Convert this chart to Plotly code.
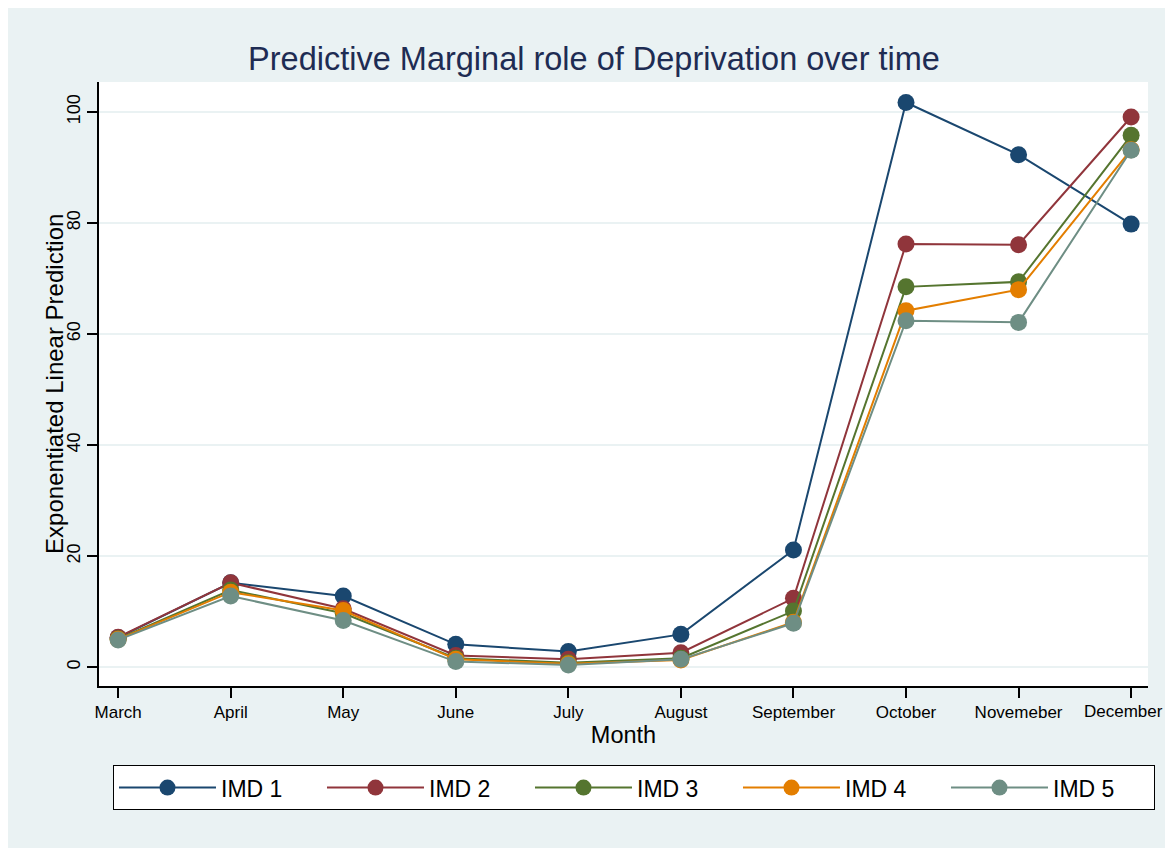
import plotly.graph_objects as go

months = ["March", "April", "May", "June", "July", "August",
          "September", "October", "Novemeber", "December"]

imd1 = [5.3, 15.2, 12.8, 4.1, 2.8, 5.9, 21.1, 101.7, 92.3, 79.8]
imd2 = [5.4, 15.2, 10.5, 2.1, 1.4, 2.6, 12.4, 76.2, 76.1, 99.1]
imd3 = [5.1, 13.9, 9.7, 1.6, 0.8, 1.6, 10.1, 68.5, 69.4, 95.8]
imd4 = [5.0, 13.5, 10.2, 1.4, 0.6, 1.3, 8.1, 64.2, 68.0, 93.2]
imd5 = [4.9, 12.8, 8.4, 1.0, 0.4, 1.4, 7.9, 62.4, 62.1, 93.1]

series = [("IMD 1", imd1, "#1a476f"),
          ("IMD 2", imd2, "#90353b"),
          ("IMD 3", imd3, "#55752f"),
          ("IMD 4", imd4, "#e37e00"),
          ("IMD 5", imd5, "#6e8e84")]

bg = "#eaf2f3"

# last label would run off the page edge: draw it as a right-anchored note instead
tick_text = months[:-1] + [""]

fig = go.Figure()
for name, vals, col in series:
    fig.add_trace(go.Scatter(x=months, y=vals, name=name, mode="lines+markers",
                             line=dict(color=col, width=2),
                             marker=dict(color=col, size=17)))

fig.update_layout(
    width=1165, height=840,
    margin=dict(l=91, r=25, t=74, b=162, autoexpand=False),
    paper_bgcolor="white", plot_bgcolor="white",
    font=dict(family="Liberation Sans, Arial", color="black"),
    title=dict(text="Predictive Marginal role of Deprivation over time",
               x=0.503, xanchor="center", y=0.940, yanchor="middle",
               font=dict(size=32.5, color="#1e2c53")),
    showlegend=True,
    legend=dict(orientation="h", x=0.510, xanchor="center", y=-0.131, yanchor="top",
                bgcolor="white", bordercolor="black", borderwidth=1,
                font=dict(size=23), itemwidth=97, entrywidth=96,
                traceorder="normal"),
    shapes=[
        # stata-style graph region (the page itself stays white past its edge)
        dict(type="rect", xref="paper", yref="paper", layer="below",
             x0=-0.08675, x1=1.01621, y0=-0.26821, y1=1.12252,
             fillcolor=bg, line=dict(width=0)),
        dict(type="rect", xref="paper", yref="paper", layer="below",
             x0=0, x1=1, y0=0, y1=1,
             fillcolor="white", line=dict(width=0)),
    ],
    annotations=[
        dict(text="Exponentiated Linear Prediction", textangle=-90,
             xref="paper", yref="paper", x=-0.043, y=0.5,
             xanchor="center", yanchor="middle", showarrow=False,
             font=dict(size=24, color="black")),
        dict(text=months[-1], xref="paper", yref="paper", x=1.0162, y=-0.043,
             xanchor="right", yanchor="middle", showarrow=False,
             font=dict(size=17, color="black")),
    ],
)

fig.update_xaxes(range=[-0.17, 9.15], showgrid=False, zeroline=False,
                 tickvals=months, ticktext=tick_text,
                 showline=True, linecolor="black", linewidth=1.5,
                 ticks="outside", ticklen=10, tickcolor="black", tickwidth=1.5,
                 tickfont=dict(size=17), automargin=False,
                 title=dict(text="Month", font=dict(size=23.5), standoff=0))
fig.update_yaxes(range=[-3.4, 105.4], tickvals=[0, 20, 40, 60, 80, 100],
                 showgrid=True, gridcolor=bg, gridwidth=2, zeroline=False,
                 showline=True, linecolor="black", linewidth=1.5,
                 ticks="outside", ticklen=10, tickcolor="black", tickwidth=1.5,
                 tickangle=-90, tickfont=dict(size=18), automargin=False)

fig.write_html("out.html")
